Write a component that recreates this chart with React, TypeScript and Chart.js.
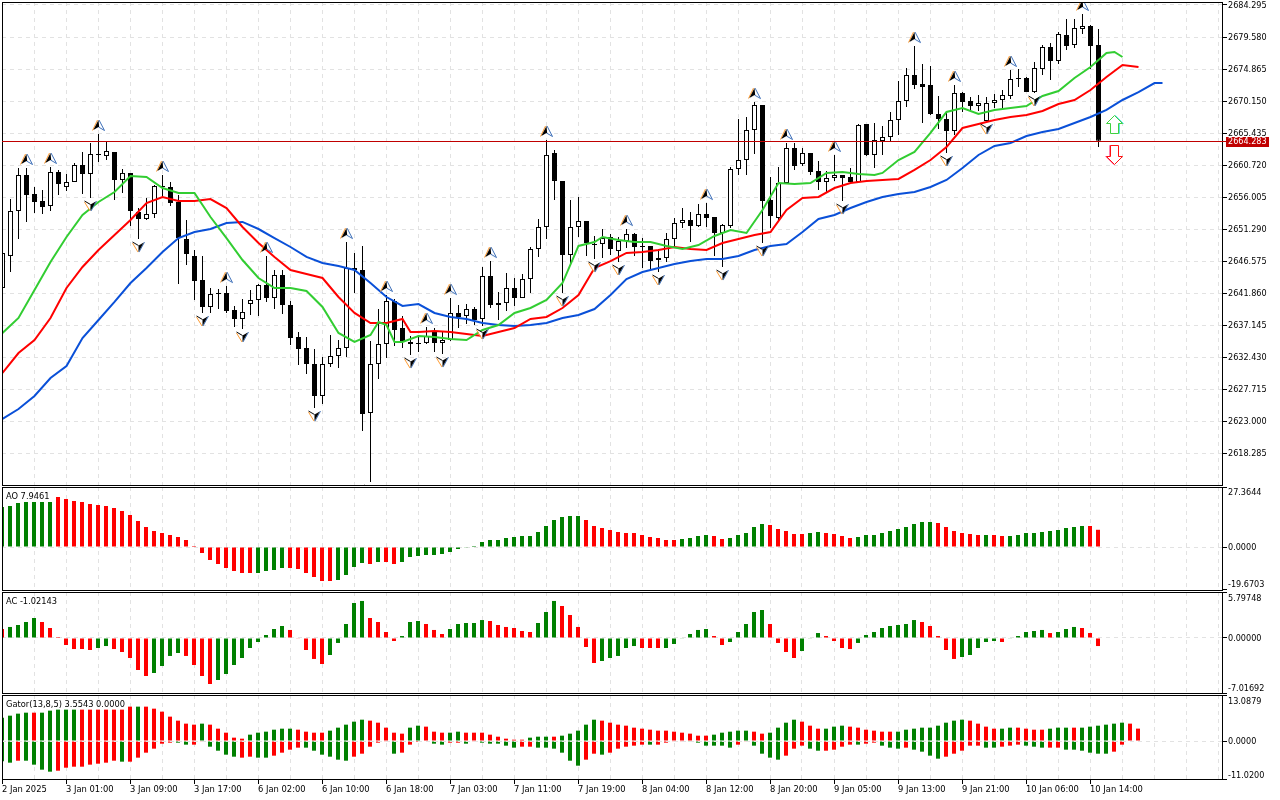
import React, { useEffect, useRef } from "react";
import { Chart, registerables } from "chart.js";

Chart.register(...registerables);

// ---------- data ----------
const timeLabels = ["2 Jan 2025", "3 Jan 01:00", "3 Jan 09:00", "3 Jan 17:00", "6 Jan 02:00", "6 Jan 10:00", "6 Jan 18:00", "7 Jan 03:00", "7 Jan 11:00", "7 Jan 19:00", "8 Jan 04:00", "8 Jan 12:00", "8 Jan 20:00", "9 Jan 05:00", "9 Jan 13:00", "9 Jan 21:00", "10 Jan 06:00", "10 Jan 14:00"];
const priceTicks = [2684.295, 2679.58, 2674.865, 2670.15, 2665.435, 2660.72, 2656.005, 2651.29, 2646.575, 2641.86, 2637.145, 2632.43, 2627.715, 2623.0, 2618.285];
const bidPrice = 2664.283;

const open = [2642.60,2647.32,2653.94,2659.25,2656.45,2655.41,2654.68,2659.69,2657.48,2658.22,2660.72,2659.40,2662.34,2662.05,2662.64,2658.51,2659.55,2653.80,2652.76,2653.50,2657.62,2657.48,2655.27,2649.81,2647.32,2643.78,2639.80,2641.86,2641.86,2639.36,2638.03,2640.24,2640.83,2643.04,2641.12,2644.51,2640.09,2635.38,2633.76,2631.40,2626.69,2631.40,2632.58,2633.76,2645.54,2645.25,2624.18,2631.40,2634.35,2640.68,2636.70,2634.65,2634.50,2634.50,2636.12,2634.50,2634.94,2638.92,2638.47,2639.50,2638.03,2644.36,2640.09,2640.38,2642.60,2641.12,2643.92,2648.34,2651.59,2662.49,2658.37,2647.46,2651.59,2652.47,2649.08,2649.08,2650.11,2648.05,2649.52,2650.55,2648.79,2648.79,2646.72,2647.02,2649.81,2652.17,2652.62,2651.73,2653.50,2653.06,2650.70,2651.73,2660.13,2661.46,2665.88,2669.56,2655.56,2652.91,2658.07,2663.23,2660.87,2662.49,2659.84,2658.22,2658.81,2659.25,2658.96,2658.22,2666.76,2662.20,2664.26,2664.85,2667.35,2670.15,2673.98,2672.66,2672.51,2668.24,2667.50,2665.73,2671.33,2670.15,2669.41,2667.20,2669.86,2670.30,2670.89,2673.54,2673.54,2671.47,2674.86,2678.11,2676.04,2679.87,2678.40,2680.76,2681.20,2678.40];
const high = [2647.91,2655.71,2660.28,2660.28,2657.48,2657.04,2660.43,2659.99,2659.40,2661.02,2662.64,2663.97,2665.29,2664.12,2662.64,2660.13,2659.55,2654.38,2655.86,2657.77,2659.25,2658.22,2656.30,2652.62,2648.20,2647.32,2642.60,2642.45,2642.89,2639.95,2640.98,2642.30,2643.19,2647.32,2645.25,2645.25,2640.68,2636.12,2635.38,2633.61,2632.43,2635.67,2634.94,2649.37,2647.76,2648.79,2634.79,2639.50,2641.57,2640.98,2638.47,2635.53,2635.38,2636.85,2636.70,2636.12,2641.12,2640.09,2640.24,2639.80,2645.69,2646.57,2642.01,2644.81,2644.07,2644.66,2648.64,2652.76,2664.41,2662.93,2658.37,2655.56,2656.01,2652.47,2650.26,2651.29,2650.55,2650.11,2651.29,2650.70,2649.96,2648.79,2648.34,2650.70,2652.91,2654.38,2653.80,2654.97,2655.12,2653.06,2652.03,2660.43,2667.50,2667.79,2670.00,2669.56,2658.96,2660.43,2663.97,2663.97,2663.23,2662.49,2661.31,2659.84,2662.20,2659.25,2660.28,2666.76,2666.76,2666.91,2666.47,2668.53,2673.10,2675.01,2678.25,2675.60,2675.31,2670.89,2668.53,2672.51,2671.47,2670.74,2671.03,2670.74,2671.18,2671.77,2674.72,2674.86,2673.69,2675.90,2678.40,2678.70,2680.32,2682.23,2682.23,2682.97,2681.35,2680.76];
const low = [2642.60,2644.96,2649.81,2652.33,2653.65,2653.50,2653.94,2656.30,2656.89,2658.22,2656.45,2655.86,2661.17,2661.46,2655.56,2656.60,2651.73,2649.81,2652.62,2652.91,2656.01,2654.68,2643.19,2645.99,2640.83,2638.92,2638.92,2639.50,2638.92,2636.85,2636.56,2638.62,2638.47,2640.54,2639.50,2638.77,2634.20,2631.25,2629.93,2624.91,2625.51,2630.96,2630.81,2632.43,2641.86,2621.53,2614.02,2629.19,2632.28,2634.05,2633.76,2632.72,2633.17,2634.35,2633.17,2632.87,2634.79,2636.70,2637.29,2637.15,2637.00,2639.65,2637.88,2639.21,2639.95,2641.12,2641.86,2647.17,2649.81,2655.56,2641.86,2646.28,2650.11,2647.32,2646.87,2647.02,2647.46,2646.43,2648.49,2647.32,2645.54,2645.25,2644.96,2646.43,2648.64,2651.44,2649.37,2651.59,2651.59,2647.32,2645.69,2651.44,2659.25,2659.25,2662.34,2649.22,2651.44,2652.47,2658.07,2659.99,2660.58,2659.25,2657.04,2656.60,2658.37,2655.41,2658.22,2658.22,2662.05,2660.28,2662.20,2664.26,2665.14,2669.26,2671.92,2666.91,2668.09,2666.03,2662.49,2665.14,2668.53,2668.83,2668.68,2667.20,2669.12,2669.12,2670.44,2672.21,2671.47,2671.33,2673.98,2673.25,2675.60,2677.67,2677.96,2680.02,2674.86,2663.37];
const close = [2647.76,2653.94,2659.25,2656.30,2655.27,2654.53,2659.69,2657.92,2658.22,2660.72,2659.40,2662.34,2662.20,2662.78,2658.51,2659.55,2653.94,2652.76,2653.50,2657.62,2657.48,2655.12,2649.96,2647.61,2643.63,2639.80,2641.71,2641.71,2639.21,2638.03,2639.07,2640.83,2643.04,2641.12,2644.51,2640.09,2635.23,2633.61,2631.40,2626.69,2631.40,2632.58,2633.76,2645.54,2645.25,2624.03,2631.40,2634.35,2640.68,2636.41,2634.65,2634.35,2634.35,2635.53,2634.50,2634.94,2638.92,2638.33,2639.50,2637.88,2644.36,2640.09,2640.38,2642.60,2641.12,2643.92,2648.34,2651.59,2662.20,2658.37,2647.46,2651.59,2652.47,2649.22,2648.93,2649.96,2648.34,2649.52,2650.55,2648.64,2648.64,2646.57,2647.02,2649.81,2652.17,2652.62,2651.73,2653.50,2652.91,2650.70,2651.88,2660.13,2661.46,2665.88,2669.56,2655.41,2653.21,2658.07,2663.23,2660.58,2662.49,2659.69,2658.22,2658.81,2659.25,2658.81,2658.22,2666.62,2662.20,2664.41,2664.85,2667.35,2670.15,2673.98,2672.51,2672.21,2668.24,2667.50,2665.73,2671.33,2670.00,2669.41,2669.86,2669.86,2670.30,2671.03,2673.39,2673.39,2671.47,2675.01,2678.11,2676.04,2680.02,2678.25,2680.91,2681.20,2678.25,2664.283];

const upFractals = [3, 6, 12, 20, 28, 33, 43, 48, 53, 56, 61, 68, 78, 88, 94, 98, 104, 114, 119, 126, 135];
const downFractals = [11, 17, 25, 30, 39, 46, 51, 55, 60, 70, 74, 77, 82, 90, 95, 105, 118, 123, 129];
const signalBar = 139;
const buySignalPrice = 2666.62;
const sellSignalPrice = 2662.2;

const blueBars = [0,2,4,6,8,10,12,14,16,18,20,22,24,26,28,30,32,34,36,38,40,42,44,46,48,50,52,54,56,58,60,62,64,66,68,70,72,74,76,78,80,82,84,86,88,90,92,94,96,98,100,102,104,106,108,110,112,114,116,118,120,122,124,126,128,130,132,134,136,138,140,142,144,145];
const blueLine = [2623.30,2624.77,2626.69,2629.34,2631.11,2635.23,2637.88,2640.54,2643.33,2645.54,2647.91,2649.96,2650.85,2651.29,2652.17,2652.33,2651.29,2649.96,2648.64,2647.17,2646.28,2645.84,2645.25,2643.33,2641.27,2639.95,2640.24,2638.92,2638.33,2638.03,2637.44,2637.15,2637.00,2637.15,2637.44,2638.18,2638.62,2639.50,2641.57,2643.92,2644.96,2645.54,2646.13,2646.57,2646.87,2646.87,2647.32,2648.20,2648.79,2649.08,2650.85,2652.76,2653.35,2654.38,2655.27,2656.01,2656.45,2656.74,2657.48,2658.51,2660.28,2662.20,2663.52,2663.97,2664.99,2665.58,2666.03,2666.91,2667.79,2668.83,2670.30,2671.47,2672.80,2672.80];
const redBars = [0,2,4,6,8,10,12,14,16,18,20,22,24,26,28,30,32,34,36,38,40,42,44,46,48,50,51,52,54,56,58,60,62,64,66,68,70,72,74,76,78,80,82,84,86,88,90,92,94,96,98,100,102,104,106,108,110,112,114,116,118,120,122,124,126,128,130,132,134,136,138,140,142];
const redLine = [2630.08,2633.02,2634.94,2638.18,2642.60,2645.69,2648.20,2650.40,2652.62,2655.12,2656.01,2655.41,2655.41,2655.71,2654.38,2651.59,2649.22,2647.17,2645.25,2644.66,2644.07,2641.27,2638.92,2637.44,2637.44,2638.03,2636.12,2636.12,2636.26,2636.12,2635.82,2635.53,2636.12,2636.70,2638.03,2638.33,2639.65,2641.57,2645.54,2646.57,2647.76,2647.91,2648.20,2648.64,2648.34,2648.20,2649.22,2649.81,2650.40,2650.85,2654.09,2655.86,2656.01,2657.33,2658.07,2658.37,2658.51,2658.66,2659.99,2661.46,2663.37,2666.17,2666.76,2667.35,2667.79,2668.09,2668.68,2669.71,2670.30,2671.77,2673.69,2675.46,2675.16];
const greenBars = [0,2,4,6,8,10,12,14,16,18,20,22,24,26,28,30,32,34,36,38,40,42,44,46,47,48,49,50,52,54,56,58,60,62,64,66,68,70,72,74,75,77,79,81,83,85,87,89,91,93,95,97,99,101,103,105,107,109,110,112,114,116,118,120,122,124,126,128,130,132,134,136,138,139,140];
const greenLine = [2635.97,2638.18,2642.30,2646.43,2650.11,2653.35,2655.27,2656.74,2659.10,2658.96,2657.33,2656.60,2656.60,2653.06,2649.96,2646.72,2644.07,2642.60,2642.60,2642.16,2639.80,2635.97,2634.65,2635.67,2637.59,2637.15,2634.65,2634.65,2635.53,2635.38,2635.09,2634.94,2636.41,2637.15,2638.92,2639.65,2640.83,2643.33,2648.79,2649.37,2650.11,2649.67,2649.37,2649.37,2648.79,2648.34,2648.93,2650.26,2651.14,2650.70,2654.09,2658.07,2657.92,2658.07,2659.55,2659.69,2659.40,2659.25,2659.55,2661.46,2662.64,2665.44,2668.53,2669.12,2668.24,2668.83,2669.12,2669.41,2670.89,2671.62,2673.54,2675.16,2677.23,2677.37,2676.63];

const aoValues = [18.44,18.90,20.29,20.75,20.75,20.75,20.75,23.06,22.13,21.21,20.75,19.83,19.37,18.90,17.98,16.60,14.76,11.99,9.22,7.38,6.46,5.53,4.61,3.23,0.46,-2.77,-5.99,-7.84,-9.68,-11.07,-11.99,-11.99,-11.99,-11.07,-10.61,-9.68,-9.68,-10.14,-11.99,-13.83,-15.68,-15.68,-15.22,-12.91,-9.22,-7.38,-7.84,-6.92,-6.92,-7.84,-6.92,-4.61,-4.15,-3.69,-3.69,-3.23,-2.31,-0.92,-0.31,0.46,2.31,3.23,3.23,4.15,4.61,5.07,5.07,6.92,9.68,12.45,13.83,14.29,14.29,12.45,9.68,8.76,7.84,6.92,6.46,6.46,5.53,4.61,4.15,3.23,3.23,3.69,4.15,5.07,5.53,5.07,3.69,4.15,5.53,6.46,9.22,10.61,10.14,8.30,7.38,5.99,5.99,6.46,6.92,6.46,5.99,5.07,4.15,4.61,5.53,5.53,6.46,7.38,8.30,9.22,10.61,11.53,11.53,11.07,9.22,7.38,6.46,5.99,5.53,5.53,5.53,5.07,5.07,5.53,6.46,6.46,6.92,7.38,7.84,8.76,9.22,9.68,9.68,7.9461];
const acValues = [1.14,1.40,1.65,2.03,2.54,2.03,1.27,0.13,-0.89,-1.40,-1.40,-1.52,-1.27,-1.02,-1.40,-1.78,-2.54,-4.06,-4.82,-4.44,-3.55,-2.28,-1.90,-2.28,-3.43,-4.82,-5.84,-5.33,-4.57,-3.43,-2.54,-1.27,-0.51,0.38,1.14,1.52,1.02,-0.08,-1.52,-2.66,-3.30,-2.16,-0.63,1.78,4.44,4.70,2.54,2.03,0.76,-0.38,0.25,2.03,2.16,1.78,1.02,0.51,1.14,1.78,1.90,1.90,2.28,2.16,1.65,1.40,1.27,0.89,0.76,1.90,3.30,4.70,4.06,2.92,1.40,-1.14,-3.17,-2.92,-2.54,-2.28,-1.27,-1.02,-1.27,-1.27,-1.27,-1.27,-0.76,-0.08,0.51,1.02,1.14,0.25,-0.89,-0.51,0.76,1.78,3.30,3.55,1.78,-0.63,-1.78,-2.54,-1.65,-0.08,0.63,0.25,-0.38,-1.27,-1.40,-0.63,0.38,0.76,1.27,1.52,1.65,1.78,2.28,2.03,1.52,0.25,-1.52,-2.66,-2.41,-2.16,-1.27,-0.51,-0.38,-0.51,-0.08,0.25,0.76,0.89,1.02,0.63,0.76,1.14,1.40,1.27,0.63,-1.02143];
const gatorUpper = [6.70,7.27,7.85,8.13,8.13,8.13,8.71,9.00,9.00,9.00,9.00,9.00,9.00,9.00,9.00,9.00,9.86,9.86,9.86,9.28,8.42,6.99,5.84,4.98,4.69,4.98,4.69,3.54,2.39,0.96,0.67,1.82,2.39,2.68,3.25,3.54,3.54,3.25,2.68,2.39,2.39,2.97,3.83,4.69,5.55,6.12,5.84,5.26,3.83,2.39,2.11,3.83,4.40,4.12,2.68,2.39,2.39,2.68,2.39,2.39,2.39,1.82,1.24,0.67,0.38,0.38,0.96,1.24,1.24,1.24,1.53,2.11,2.97,4.69,6.12,5.84,5.26,4.69,4.40,3.83,3.54,3.25,2.97,2.97,2.68,2.39,2.11,1.53,1.53,1.82,2.39,2.68,2.97,2.97,2.68,2.11,2.39,3.83,5.26,6.12,5.55,4.40,3.54,3.54,4.12,4.40,4.12,3.83,3.25,2.97,2.68,2.68,2.68,3.25,3.54,3.83,3.83,4.40,5.26,5.84,6.12,5.84,4.98,4.12,3.54,3.54,3.83,3.83,3.54,3.25,3.25,3.54,3.83,3.83,3.83,3.83,4.12,4.40,4.69,4.98,5.26,4.98,3.5543];
const gatorLower = [-5.84,-6.22,-5.65,-5.65,-6.79,-8.23,-8.80,-8.52,-7.66,-7.37,-7.37,-6.79,-6.51,-6.22,-5.65,-5.93,-5.93,-4.78,-3.35,-2.20,-0.77,-0.48,-0.48,-1.05,-1.05,-0.19,-1.63,-2.78,-3.92,-4.50,-4.78,-4.50,-4.78,-4.78,-4.21,-3.35,-2.49,-1.91,-1.91,-2.78,-3.92,-4.50,-5.36,-5.65,-4.50,-3.64,-1.63,-0.48,-0.19,-3.64,-3.35,-1.05,-0.29,0,-0.77,-1.05,-0.48,-0.48,-0.77,-0.19,-0.48,-0.77,-0.77,-1.34,-1.91,-1.63,-1.63,-1.91,-1.91,-2.20,-3.35,-5.65,-7.08,-5.36,-3.64,-3.92,-3.35,-2.20,-1.63,-1.34,-1.05,-1.05,-1.05,-0.48,-0.10,-0.19,-0.19,-0.48,-1.34,-1.34,-1.34,-1.91,-1.05,-0.19,-1.34,-3.64,-4.78,-5.36,-4.21,-2.20,-1.34,-2.20,-2.78,-2.78,-2.49,-1.63,-1.05,-1.05,-0.77,-0.48,-1.34,-1.91,-2.20,-1.91,-2.49,-3.06,-4.21,-5.07,-4.50,-3.64,-2.78,-1.34,-1.34,-1.91,-1.91,-1.63,-1.34,-1.05,-1.34,-1.63,-1.91,-1.91,-1.91,-2.49,-2.49,-2.78,-3.35,-3.64,-3.64,-3.06,-1.05,0,0];

// run lengths of alternating histogram colours
const aoRuns = [7,25,4,6,4,1,1,2,23,12,4,2,5,5,2,4,10,6,1,2,10,2];
const acRuns = [1,4,7,2,5,4,4,9,5,5,4,3,3,5,6,3,5,5,3,6,2,5,4,3,4,8,5,5,1,5,1,3,3];
const gatorUpperRuns = [4,1,5,7,1,7,1,5,6,4,5,5,2,3,2,8,3,1,5,14,5,2,4,3,3,6,9,4,2,4,3,1,6,2];
const gatorLowerRuns = [2,1,4,8,1,6,2,2,4,2,2,4,6,5,1,4,2,2,1,1,5,2,6,2,1,5,1,4,6,2,4,3,2,4,1,2,3,1,4,5,2,3,3,2,6,4];

// ---------- styles ----------
const UP = "#008000";
const DOWN = "#ff0000";
const GRID = "#e2e2e2";
const DASH = [4, 4];
const FAMILY = "'DejaVu Sans Condensed', 'Liberation Sans', Arial, sans-serif";
const FONT = { family: FAMILY, size: 9 };
const X_FONT = { family: FAMILY, size: 9.3 };
const CSS_FONT = `9px ${FAMILY}`;
const TITLE_FONT = `9.2px ${FAMILY}`;
const X_MAX_BARS = 152.5;

const expandRuns = (runs: number[], first: string, second: string) => {
  const out: string[] = [];
  runs.forEach((n, i) => { for (let j = 0; j < n; j++) out.push(i % 2 === 0 ? first : second); });
  return out;
};

const makeIcon = (w: number, h: number, draw: (c: CanvasRenderingContext2D) => void) => {
  const cv = document.createElement("canvas");
  cv.width = w;
  cv.height = h;
  draw(cv.getContext("2d") as CanvasRenderingContext2D);
  return cv;
};

const poly = (c: CanvasRenderingContext2D, pts: number[][]) => {
  c.beginPath();
  pts.forEach((p, i) => (i ? c.lineTo(p[0], p[1]) : c.moveTo(p[0], p[1])));
  c.closePath();
};

// fractal glyphs: anchor is the bar's high / low at the image centre
const upFractalIcon = () => makeIcon(13, 40, (c) => {
  const tip = [6.5, 6], l = [0.5, 16.5], r = [12.5, 16.5], n = [6.5, 13];
  poly(c, [tip, r, n]); c.fillStyle = "#fff"; c.fill();
  c.strokeStyle = "#3d6fb8"; c.lineWidth = 1;
  c.beginPath(); c.moveTo(tip[0] + 0.5, tip[1]); c.lineTo(r[0], r[1]); c.lineTo(n[0], n[1]); c.stroke();
  c.strokeStyle = "#ff9a2e";
  c.beginPath(); c.moveTo(tip[0] - 1, tip[1]); c.lineTo(l[0], l[1]); c.stroke();
  poly(c, [tip, [7.2, 12.9], n, [l[0] + 0.8, l[1] - 0.4]]); c.fillStyle = "#000"; c.fill();
});

const downFractalIcon = () => makeIcon(13, 40, (c) => {
  const tip = [6.5, 33], l = [0.5, 23], r = [12.5, 23], n = [6.5, 26.5];
  poly(c, [tip, l, n]); c.fillStyle = "#fff"; c.fill();
  c.strokeStyle = "#000"; c.lineWidth = 1;
  c.beginPath(); c.moveTo(l[0], l[1]); c.lineTo(n[0], n[1]); c.stroke();
  c.strokeStyle = "#ff9a2e";
  c.beginPath(); c.moveTo(l[0], l[1] + 1); c.lineTo(tip[0] - 0.5, tip[1]); c.stroke();
  c.strokeStyle = "#3d6fb8";
  c.beginPath(); c.moveTo(r[0], r[1]); c.lineTo(tip[0] + 0.5, tip[1]); c.stroke();
  poly(c, [tip, [r[0] - 0.8, r[1] + 0.4], n]); c.fillStyle = "#000"; c.fill();
});

const UP_SHAPE = [[9.5, 0.5], [17.5, 8.5], [13.5, 8.5], [13.5, 18.5], [5.5, 18.5], [5.5, 8.5], [1.5, 8.5]];
const DOWN_SHAPE = [[5.5, 0.5], [13.5, 0.5], [13.5, 11.5], [17.5, 11.5], [9.5, 19.5], [1.5, 11.5], [5.5, 11.5]];

const buyIcon = () => makeIcon(19, 20, (c) => {
  c.translate(1, 0); poly(c, UP_SHAPE); c.strokeStyle = "#62e0e8"; c.lineWidth = 1; c.stroke();
  c.translate(-1, 0); poly(c, UP_SHAPE); c.fillStyle = "#fff"; c.fill(); c.strokeStyle = "#3fd23f"; c.stroke();
});

const sellIcon = () => makeIcon(19, 20, (c) => {
  c.translate(-1, 0); poly(c, DOWN_SHAPE); c.strokeStyle = "#ff80b0"; c.lineWidth = 1; c.stroke();
  c.translate(1, 0); poly(c, DOWN_SHAPE); c.fillStyle = "#fff"; c.fill(); c.strokeStyle = "#ff1010"; c.stroke();
});

// ---------- shared scale options ----------
const clearPadding = (s: any) => {
  s.paddingLeft = 0;
  s.paddingRight = 0;
  s.paddingTop = 0;
  s.paddingBottom = 0;
};

const xScale = (min: number, max: number, bottomAxis: boolean) => ({
  type: "linear",
  min,
  max,
  offset: false,
  position: "bottom",
  afterBuildTicks: (s: any) => {
    const t = [];
    for (let v = 0; v <= 152; v += 4) t.push({ value: v });
    s.ticks = t;
  },
  afterFit: (s: any) => { s.height = bottomAxis ? 20 : 0; clearPadding(s); },
  border: { display: false, dash: DASH },
  grid: {
    offset: false,
    color: GRID,
    drawTicks: bottomAxis,
    tickLength: 4,
    tickColor: (ctx: any) => (ctx.tick && ctx.tick.value % 8 === 0 && ctx.tick.value / 8 < timeLabels.length ? "#000" : "rgba(0,0,0,0)"),
  },
  ticks: {
    display: bottomAxis,
    autoSkip: false,
    maxRotation: 0,
    minRotation: 0,
    align: "start",
    padding: 0,
    color: "#000",
    font: X_FONT,
    callback: (v: number) => (v % 8 === 0 && timeLabels[v / 8] ? timeLabels[v / 8] : ""),
  },
});

const subY = (min: number, max: number, tickTop: number, tickBottom: number, onTop: boolean) => ({
  type: "linear",
  position: "right",
  min,
  max,
  afterFit: (s: any) => { s.width = 58; clearPadding(s); },
  afterBuildTicks: (s: any) => { s.ticks = [{ value: tickTop }, { value: 0 }, { value: tickBottom }]; },
  border: { display: false, dash: DASH },
  grid: {
    z: onTop ? 1 : 0,
    color: (ctx: any) => (ctx.tick && ctx.tick.value === 0 ? GRID : "rgba(0,0,0,0)"),
    tickLength: 5,
    tickColor: "#000",
  },
  ticks: { padding: 1, color: "rgba(0,0,0,0)", font: FONT, callback: () => "" },
});

const baseOptions = (padding: any, scales: any) => ({
  responsive: false,
  animation: false,
  events: [],
  layout: { padding, autoPadding: false },
  plugins: { legend: { display: false }, tooltip: { enabled: false } },
  scales,
});

const framePlugin = {
  id: "frame",
  afterDraw: (chart: any) => {
    const { ctx, chartArea: a } = chart;
    ctx.save();
    ctx.strokeStyle = "#000";
    ctx.lineWidth = 1;
    ctx.strokeRect(a.left + 0.5, a.top + 0.5, a.right - a.left, a.bottom - a.top - 1);
    ctx.restore();
  },
};

const panelText = (title: string, labels: { text: string; value: number; shift: number }[]) => ({
  id: "panelText",
  afterDraw: (chart: any) => {
    const { ctx, chartArea: a, scales } = chart;
    ctx.save();
    ctx.fillStyle = "#000";
    ctx.textBaseline = "middle";
    ctx.textAlign = "left";
    ctx.font = TITLE_FONT;
    ctx.fillText(title, 6, a.top + 10);
    ctx.font = CSS_FONT;
    labels.forEach((l) => ctx.fillText(l.text, 1228, scales.y.getPixelForValue(l.value) + l.shift));
    ctx.restore();
  },
});

const bidPlugin = {
  id: "bid",
  afterDraw: (chart: any) => {
    const { ctx, chartArea: a, scales } = chart;
    const y = Math.round(scales.y.getPixelForValue(bidPrice));
    ctx.save();
    ctx.fillStyle = "#c00000";
    ctx.fillRect(a.left, y, 1226 - a.left, 1);
    ctx.fillRect(1226, y - 4, 43, 10);
    ctx.fillStyle = "#fff";
    ctx.font = CSS_FONT;
    ctx.textBaseline = "middle";
    ctx.fillText(bidPrice.toFixed(3), 1228, y + 1);
    ctx.restore();
  },
};

const histogram = (values: number[], colors: string[], width: number, order = 1) => ({
  type: "bar",
  order,
  grouped: false,
  data: values.map((v, k) => ({ x: k, y: v })),
  backgroundColor: colors,
  borderWidth: 0,
  inflateAmount: 0,
  barThickness: width,
  maxBarThickness: width,
});

const lineSet = (bars: number[], vals: number[], color: string, order: number) => ({
  type: "line",
  order,
  data: bars.map((k, i) => ({ x: k, y: vals[i] })),
  borderColor: color,
  borderWidth: 2,
  pointRadius: 0,
  tension: 0,
  fill: false,
});

const marks = (points: { x: number; y: number }[], icon: HTMLCanvasElement, order: number) => ({
  type: "line",
  order,
  showLine: false,
  data: points,
  pointStyle: icon,
  pointRadius: 5,
});

export default function App() {
  const mainRef = useRef<HTMLCanvasElement>(null);
  const aoRef = useRef<HTMLCanvasElement>(null);
  const acRef = useRef<HTMLCanvasElement>(null);
  const gatorRef = useRef<HTMLCanvasElement>(null);

  useEffect(() => {
    const charts: Chart[] = [];

    const main = {
      type: "bar",
      data: {
        datasets: [
          marks(upFractals.map((k) => ({ x: k, y: high[k] })), upFractalIcon(), 1),
          marks(downFractals.map((k) => ({ x: k, y: low[k] })), downFractalIcon(), 1),
          marks([{ x: signalBar, y: buySignalPrice }], buyIcon(), 1),
          marks([{ x: signalBar, y: sellSignalPrice }], sellIcon(), 1),
          lineSet(greenBars, greenLine, "#32cd32", 2),
          lineSet(redBars, redLine, "#ff0000", 3),
          lineSet(blueBars, blueLine, "#0a50d8", 4),
          {
            type: "bar",
            order: 5,
            grouped: false,
            data: open.map((o, k) => ({ x: k, y: [o, close[k]] })),
            backgroundColor: open.map((o, k) => (close[k] >= o ? "#fff" : "#000")),
            borderColor: "#000",
            borderWidth: 1,
            borderSkipped: false,
            inflateAmount: 0,
            barThickness: 5,
            maxBarThickness: 5,
          },
          {
            type: "bar",
            order: 6,
            grouped: false,
            data: low.map((l, k) => ({ x: k, y: [l, high[k]] })),
            backgroundColor: "#000",
            borderWidth: 0,
            inflateAmount: 0,
            barThickness: 1,
            maxBarThickness: 1,
          },
        ],
      },
      options: baseOptions({ left: 2, top: 2, right: 0, bottom: 1 }, {
        x: xScale(-0.0625, 152.4375, false),
        y: {
          type: "linear",
          position: "right",
          min: 2613.425,
          max: 2684.737,
          afterFit: (s: any) => { s.width = 58; clearPadding(s); },
          afterBuildTicks: (s: any) => { s.ticks = priceTicks.map((value) => ({ value })); },
          border: { display: false, dash: DASH },
          grid: { color: GRID, tickLength: 5, tickColor: "#000" },
          ticks: { autoSkip: false, padding: 1, labelOffset: 1, color: "#000", font: FONT, callback: (v: number) => v.toFixed(3) },
        },
      }),
      plugins: [framePlugin, bidPlugin],
    };
    charts.push(new Chart(mainRef.current as any, main as any));

    const pad = { left: 2, top: 0, right: 0, bottom: 0 };

    const ao = {
      type: "bar",
      data: { datasets: [histogram(aoValues, expandRuns(aoRuns, UP, DOWN), 4)] },
      options: baseOptions(pad, { x: xScale(0, X_MAX_BARS, false), y: subY(-20.288, 27.666, 27.3644, -19.6703, false) }),
      plugins: [framePlugin, panelText("AO 7.9461", [
        { text: "27.3644", value: 27.3644, shift: 5 },
        { text: "0.0000", value: 0, shift: 1 },
        { text: "-19.6703", value: -19.6703, shift: -5 },
      ])],
    };
    charts.push(new Chart(aoRef.current as any, ao as any));

    const ac = {
      type: "bar",
      data: { datasets: [histogram(acValues, expandRuns(acRuns, DOWN, UP), 4)] },
      options: baseOptions(pad, { x: xScale(0, X_MAX_BARS, false), y: subY(-7.106, 5.837, 5.79748, -7.01692, false) }),
      plugins: [framePlugin, panelText("AC -1.02143", [
        { text: "5.79748", value: 5.79748, shift: 6 },
        { text: "0.00000", value: 0, shift: 1 },
        { text: "-7.01692", value: -7.01692, shift: -5 },
      ])],
    };
    charts.push(new Chart(acRef.current as any, ac as any));

    const gator = {
      type: "bar",
      data: {
        datasets: [
          histogram(gatorUpper, expandRuns(gatorUpperRuns, UP, DOWN), 4, 1),
          histogram(gatorLower, expandRuns(gatorLowerRuns, UP, DOWN), 4, 2),
        ],
      },
      options: baseOptions(pad, { x: xScale(0, X_MAX_BARS, true), y: subY(-11.19, 13.2, 13.0879, -11.02, true) }),
      plugins: [framePlugin, panelText("Gator(13,8,5) 3.5543 0.0000", [
        { text: "13.0879", value: 13.0879, shift: 6 },
        { text: "0.0000", value: 0, shift: 1 },
        { text: "-11.0200", value: -11.02, shift: -4 },
      ])],
    };
    charts.push(new Chart(gatorRef.current as any, gator as any));

    return () => charts.forEach((c) => c.destroy());
  }, []);

  const canvas = (ref: any, top: number, height: number) => (
    <canvas ref={ref} width={1280} height={height} style={{ position: "absolute", left: 0, top, width: 1280, height, display: "block" }} />
  );

  return (
    <div style={{ position: "absolute", left: 0, top: 0, width: 1280, height: 800, background: "#fff", overflow: "hidden" }}>
      {canvas(mainRef, 0, 487)}
      {canvas(aoRef, 487, 104)}
      {canvas(acRef, 592, 102)}
      {canvas(gatorRef, 695, 105)}
    </div>
  );
}
